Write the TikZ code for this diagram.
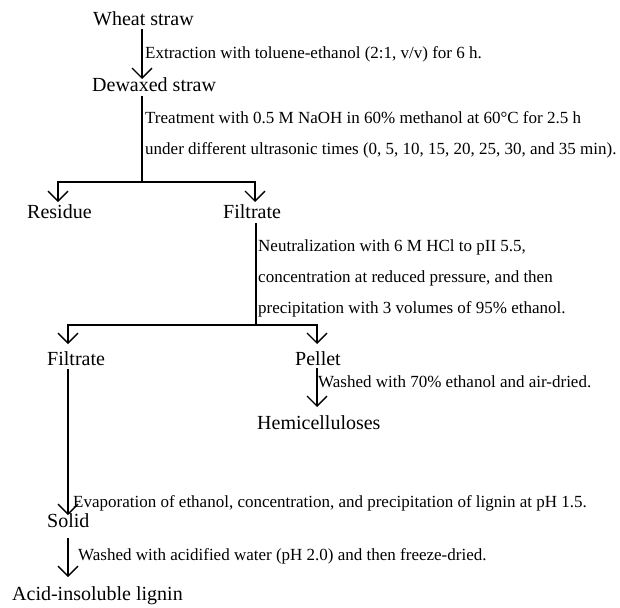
\documentclass[tikz,border=0pt]{standalone}
\usepackage{fontspec}
\setmainfont{Liberation Serif}
\usetikzlibrary{arrows.meta}
\begin{document}
\begin{tikzpicture}[x=1pt,y=-1pt,
  lab/.style={anchor=base west,inner sep=0pt,font=\fontsize{20}{24}\selectfont},
  note/.style={anchor=base west,inner sep=0pt,font=\fontsize{17}{20}\selectfont},
  flow/.style={line width=1.3pt,-{Straight Barb[length=10pt,width=20pt,line width=1.3pt]}},
  link/.style={line width=1.3pt}]
\useasboundingbox (0,0) rectangle (620,607);
% main labels
\node[lab] (wheat) at (93,26) {Wheat straw};
\node[lab] (dewax) at (92,92) {Dewaxed straw};
\node[lab] (res) at (27,218) {Residue};
\node[lab] (filt1) at (223,218) {Filtrate};
\node[lab] (filt2) at (47,365) {Filtrate};
\node[lab] (pellet) at (295,365) {Pellet};
\node[lab] (hemi) at (257,429) {Hemicelluloses};
\node[lab] (solid) at (47,527) {Solid};
\node[lab] (acid) at (12,600) {Acid-insoluble lignin};
% notes
\node[note] (n1) at (145,59) {Extraction with toluene-ethanol (2:1, v/v) for 6 h.};
\node[note] (n2a) at (145,123) {Treatment with 0.5 M NaOH in 60\% methanol at 60°C for 2.5 h};
\node[note] (n2b) at (145,154) {under different ultrasonic times (0, 5, 10, 15, 20, 25, 30, and 35 min).};
\node[note] (n3a) at (258,251) {Neutralization with 6 M HCl to pII 5.5,};
\node[note] (n3b) at (258,282) {concentration at reduced pressure, and then};
\node[note] (n3c) at (258,313) {precipitation with 3 volumes of 95\% ethanol.};
\node[note] (n4) at (318,387) {Washed with 70\% ethanol and air-dried.};
\node[note] (n5) at (73,507) {Evaporation of ethanol, concentration, and precipitation of lignin at pH 1.5.};
\node[note] (n6) at (78,560) {Washed with acidified water (pH 2.0) and then freeze-dried.};
% connector points
\coordinate (c1top) at (142,29);
\coordinate (c1tip) at (142,79);
\coordinate (c2top) at (142,96);
\coordinate (j1) at (142,182);
\coordinate (resTip) at (58,202);
\coordinate (filt1Tip) at (255,202);
\coordinate (c3top) at (256,223);
\coordinate (j2) at (256,325);
\coordinate (filt2Tip) at (68,344);
\coordinate (pelTip) at (317,344);
\coordinate (c4top) at (317,368);
\coordinate (hemiTip) at (317,407);
\coordinate (c5top) at (68,369);
\coordinate (solidTip) at (68,515);
\coordinate (c6top) at (68,538);
\coordinate (acidTip) at (68,577);
% connectors
\draw[flow] (c1top) -- (c1tip);
\draw[link] (c2top) -- (j1);
\draw[flow] (j1) -| (resTip);
\draw[flow] (j1) -| (filt1Tip);
\draw[link] (c3top) -- (j2);
\draw[flow] (j2) -| (filt2Tip);
\draw[flow] (j2) -| (pelTip);
\draw[flow] (c4top) -- (hemiTip);
\draw[flow] (c5top) -- (solidTip);
\draw[flow] (c6top) -- (acidTip);
\end{tikzpicture}
\end{document}
